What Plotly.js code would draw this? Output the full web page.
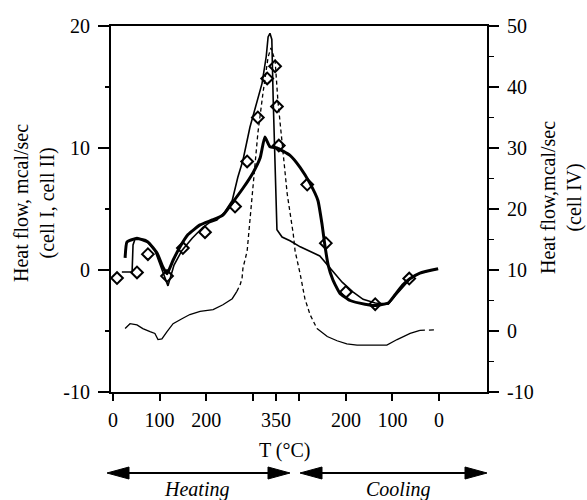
<!DOCTYPE html>
<html>
<head>
<meta charset="utf-8">
<script src="https://cdn.plot.ly/plotly-3.0.1.min.js"></script>
<style>
html,body{margin:0;padding:0;background:#fff;}
#chart{width:587px;height:500px;}
</style>
</head>
<body>
<div id="chart"></div>
<script>
// x = position along the thermal cycle: heating 0 -> 350 °C, then cooling 350 -> 0 °C (shown as 350..700)
const tickPositions = [0, 100, 200, 300, 350, 400, 500, 600, 700];
const tickLabels = ['0', '100', '200', '', '350', '', '200', '100', '0'];
const leftTickValues = [-10, 0, 10, 20];
const leftTickLabels = ['-10', '0', '10', '20'];
const leftMinorValues = [-5, 5, 15];
const rightTickValues = [-10, 0, 10, 20, 30, 40, 50];
const rightTickLabels = ['-10', '0', '10', '20', '30', '40', '50'];
const rightMinorValues = [-5, 5, 15, 25, 35, 45];

// cell I (thick solid, left axis)
const cellICycle = [26, 30, 51.5, 75, 94.5, 107, 116, 129, 144, 161, 187, 213, 236, 258, 279, 301, 316, 326, 337, 352, 380, 402, 423, 440, 449, 455, 462, 472, 487, 509, 541, 563, 591, 606, 623, 638, 659, 698];
const cellIFlow = [1.0, 2.3, 2.6, 2.3, 1.4, 0.25, -0.3, 0.8, 1.9, 2.9, 3.7, 4.1, 4.5, 5.6, 6.7, 8.0, 9.2, 10.9, 10.1, 10.0, 9.4, 8.4, 7.1, 5.7, 3.7, 2.0, 0.4, -0.8, -1.9, -2.5, -2.8, -2.9, -2.7, -2.0, -1.2, -0.7, -0.25, 0.1];

// cell II (thin solid, left axis)
const cellIICycle = [19, 41, 43, 47, 69, 90, 107, 118, 131, 148, 170, 193, 208, 223, 240, 256, 268, 279, 294, 309, 320, 329, 333, 337, 341, 344, 348, 352, 363, 380, 402, 444, 466, 492, 515, 537, 563, 591, 606, 623, 638, 659, 698];
const cellIIFlow = [-0.16, -0.16, 2.05, 2.5, 2.5, 1.6, -0.16, -1.3, 0.4, 1.6, 2.6, 3.5, 3.9, 4.1, 4.75, 5.7, 7.6, 9.0, 11.7, 13.7, 15.3, 17.5, 19.1, 19.4, 18.9, 13.9, 8.4, 3.3, 2.7, 2.4, 1.9, 1.15, 0.16, -1.0, -1.8, -2.4, -2.7, -2.8, -2.1, -1.4, -0.74, -0.25, 0.1];

// diamonds (left axis)
const diamondCycle = [8.6, 51.5, 75, 116, 150, 197.5, 262, 288, 311, 331, 348, 352, 356, 417, 457, 500, 563, 636];
const diamondFlow = [-0.66, -0.2, 1.3, -0.5, 1.8, 3.1, 5.2, 8.9, 12.5, 15.7, 16.7, 13.4, 10.2, 7.0, 2.2, -1.8, -2.8, -0.7];

// cell IV (thin / dashed, right axis)
const cellIVCycle = [26, 36.5, 51.5, 64, 79.5, 90, 96.6, 105, 116, 129, 148, 165, 187, 215, 236, 256, 266, 273, 277, 279, 288, 301, 311, 322, 333, 339, 348, 354, 365, 374, 387, 391, 402, 412, 423, 438, 460, 481, 502, 524, 588, 610, 638, 659, 696];
const cellIVFlow = [0.4, 1.2, 1.0, 0.4, -0.1, -0.4, -1.4, -1.3, -0.1, 1.2, 2.0, 2.7, 3.2, 3.5, 4.3, 5.3, 6.5, 7.6, 8.6, 10.3, 13.1, 24.6, 32.4, 39.0, 44.9, 46.4, 44.4, 37.8, 29.6, 22.5, 15.9, 13.1, 9.3, 5.3, 2.7, 0.4, -0.9, -1.6, -2.1, -2.3, -2.3, -1.4, -0.4, 0.1, 0.2];

const serif = '"Liberation Serif", "Times New Roman", Times, serif';
const baseFont = {family: serif, size: 20, color: '#000'};

// plot-area geometry (pixels) used only for decoration placement
const L = 111, R = 487, T = 26, B = 392;
const px = v => (v - L) / (R - L);
const py = v => (B - v) / (B - T);

function ivSegment(i0, i1, dash) {
  return {
    x: cellIVCycle.slice(i0, i1 + 1), y: cellIVFlow.slice(i0, i1 + 1),
    yaxis: 'y2', type: 'scatter', mode: 'lines',
    line: {color: '#000', width: 1.3, dash: dash},
    hoverinfo: 'skip', name: 'cell IV'
  };
}

const traces = [
  ivSegment(0, 16, 'solid'),
  ivSegment(16, 35, '4px,3px'),
  ivSegment(35, 43, 'solid'),
  ivSegment(43, cellIVCycle.length - 1, '5px,4px'),
  {x: cellIICycle, y: cellIIFlow, type: 'scatter', mode: 'lines', line: {color: '#000', width: 1.6}, name: 'cell II'},
  {x: cellICycle, y: cellIFlow, type: 'scatter', mode: 'lines', line: {color: '#000', width: 3, shape: 'spline', smoothing: 0.4}, name: 'cell I'},
  {x: diamondCycle, y: diamondFlow, type: 'scatter', mode: 'markers',
   marker: {symbol: 'diamond-open', size: 9, color: '#000', line: {color: '#000', width: 2}}, name: 'data'}
];

function arrow(x1, x2, y) {
  const h = 6, len = 22;
  const line = {type: 'line', xref: 'paper', yref: 'paper', x0: px(x1 + 4), x1: px(x2 - 4), y0: py(y), y1: py(y), line: {color: '#000', width: 2}};
  const left = {type: 'path', xref: 'paper', yref: 'paper', fillcolor: '#000', line: {color: '#000', width: 1},
    path: `M ${px(x1)} ${py(y)} L ${px(x1 + len)} ${py(y - h)} L ${px(x1 + len)} ${py(y + h)} Z`};
  const right = {type: 'path', xref: 'paper', yref: 'paper', fillcolor: '#000', line: {color: '#000', width: 1},
    path: `M ${px(x2)} ${py(y)} L ${px(x2 - len)} ${py(y - h)} L ${px(x2 - len)} ${py(y + h)} Z`};
  return [line, left, right];
}

function minorAxis(side, range, vals, len) {
  return {
    overlaying: 'y', side: side, anchor: 'x', range: range,
    tickmode: 'array', tickvals: vals, showticklabels: false,
    ticks: 'outside', ticklen: len, tickwidth: 1.5, tickcolor: '#000',
    showline: false, showgrid: false, zeroline: false
  };
}

const layout = {
  width: 587, height: 500,
  margin: {l: L, r: 587 - R, t: T, b: 500 - B, pad: 0},
  paper_bgcolor: '#fff', plot_bgcolor: '#fff',
  showlegend: false,
  font: baseFont,
  xaxis: {
    range: [-4.3, 803], tickmode: 'array', tickvals: tickPositions, ticktext: tickLabels,
    ticks: 'outside', ticklen: 7, tickwidth: 2, tickcolor: '#000',
    showline: true, linewidth: 2, linecolor: '#000', mirror: true,
    showgrid: false, zeroline: false, ticklabelstandoff: 2, tickfont: baseFont
  },
  yaxis: {
    range: [-10, 20], tickmode: 'array', tickvals: leftTickValues, ticktext: leftTickLabels,
    ticks: 'outside', ticklen: 11, tickwidth: 2, tickcolor: '#000',
    showline: true, linewidth: 2, linecolor: '#000',
    showgrid: false, zeroline: false, ticklabelstandoff: 4, tickfont: baseFont
  },
  yaxis2: {
    overlaying: 'y', side: 'right', anchor: 'x',
    range: [-10, 50], tickmode: 'array', tickvals: rightTickValues, ticktext: rightTickLabels,
    ticks: 'outside', ticklen: 10, tickwidth: 2, tickcolor: '#000',
    showline: true, linewidth: 2, linecolor: '#000',
    showgrid: false, zeroline: false, ticklabelstandoff: 4, tickfont: baseFont
  },
  yaxis3: minorAxis('left', [-10, 20], leftMinorValues, 5),
  yaxis4: minorAxis('right', [-10, 50], rightMinorValues, 6),
  annotations: [
    {text: 'Heat flow, mcal/sec<br>(cell I, cell II)', xref: 'paper', yref: 'paper', x: px(34), y: py(203),
     xanchor: 'center', yanchor: 'middle', textangle: -90, showarrow: false, font: baseFont},
    {text: 'Heat flow,mcal/sec<br>(cell IV)', xref: 'paper', yref: 'paper', x: px(561), y: py(198),
     xanchor: 'center', yanchor: 'middle', textangle: -90, showarrow: false, font: baseFont},
    {text: 'T (°C)', xref: 'paper', yref: 'paper', x: px(285), y: py(450),
     xanchor: 'center', yanchor: 'middle', showarrow: false, font: baseFont},
    {text: '<i>Heating</i>', xref: 'paper', yref: 'paper', x: px(196), y: py(489),
     xanchor: 'center', yanchor: 'middle', showarrow: false, font: baseFont},
    {text: '<i>Cooling</i>', xref: 'paper', yref: 'paper', x: px(398), y: py(489),
     xanchor: 'center', yanchor: 'middle', showarrow: false, font: baseFont}
  ],
  shapes: [].concat(arrow(107, 290, 473), arrow(300, 487, 473))
};

// empty helper traces so the minor-tick axes are drawn
traces.push({x: [], y: [], yaxis: 'y3', type: 'scatter', mode: 'lines', hoverinfo: 'skip', showlegend: false});
traces.push({x: [], y: [], yaxis: 'y4', type: 'scatter', mode: 'lines', hoverinfo: 'skip', showlegend: false});

Plotly.newPlot('chart', traces, layout, {displayModeBar: false, staticPlot: true});
</script>
</body>
</html>
